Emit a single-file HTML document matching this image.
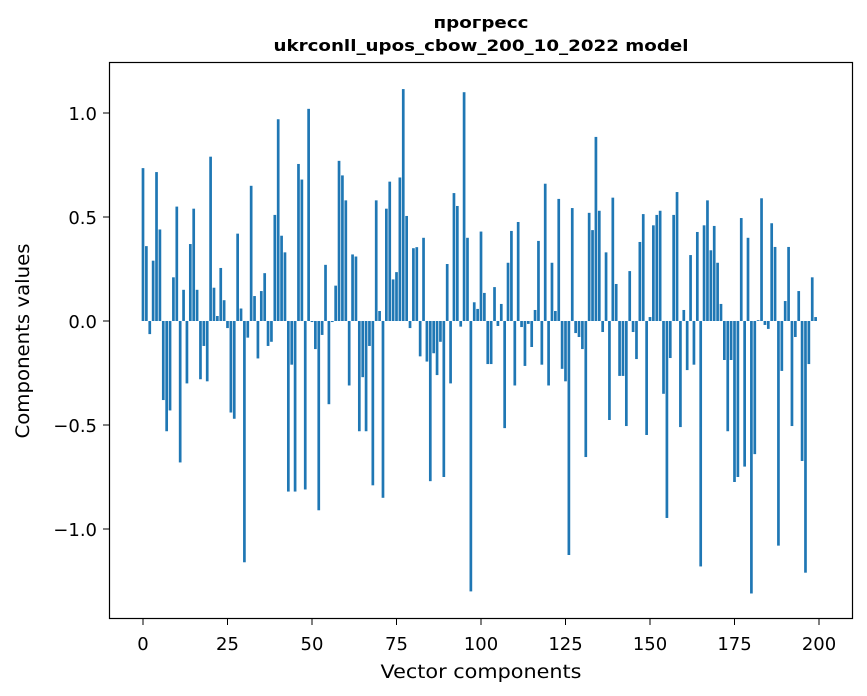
<!DOCTYPE html>
<html><head><meta charset="utf-8"><style>
body{margin:0;background:#fff;}
svg{display:block;font-family:"DejaVu Sans","Liberation Sans",sans-serif;}
</style></head><body>
<svg id="chart" width="867" height="696" viewBox="0 0 867 696">
<rect width="867" height="696" fill="#fff"/>
<text x="481" y="28" text-anchor="middle" font-size="16" font-weight="bold" textLength="95" lengthAdjust="spacingAndGlyphs">прогресс</text>
<text x="481" y="51" text-anchor="middle" font-size="16" font-weight="bold" textLength="415" lengthAdjust="spacingAndGlyphs">ukrconll_upos_cbow_200_10_2022 model</text>
<g id="bars"></g>
<g id="xticks"></g>
<g id="yticks"></g>
<rect x="109.5" y="62.5" width="743" height="556" fill="none" stroke="#000" stroke-width="1.2"/>
<text x="481" y="678" text-anchor="middle" font-size="19" textLength="201" lengthAdjust="spacingAndGlyphs">Vector components</text>
<text x="0" y="0" transform="translate(29,341) rotate(-90)" text-anchor="middle" font-size="19" textLength="195" lengthAdjust="spacingAndGlyphs">Components values</text>
</svg>
<script>
const values = [0.735,0.36,-0.063,0.29,0.716,0.44,-0.38,-0.53,-0.43,0.21,
0.55,-0.68,0.15,-0.30,0.37,0.54,0.15,-0.28,-0.12,-0.29,
0.79,0.16,0.024,0.255,0.10,-0.034,-0.44,-0.47,0.42,0.06,
-1.16,-0.08,0.65,0.12,-0.18,0.144,0.23,-0.12,-0.10,0.51,
0.97,0.41,0.33,-0.82,-0.21,-0.82,0.755,0.68,-0.81,1.02,
-0.005,-0.135,-0.91,-0.067,0.27,-0.40,-0.005,0.17,0.77,0.70,
0.58,-0.31,0.32,0.31,-0.53,-0.27,-0.53,-0.12,-0.79,0.58,
0.048,-0.85,0.54,0.67,0.20,0.235,0.69,1.115,0.505,-0.034,
0.35,0.355,-0.17,0.40,-0.195,-0.77,-0.155,-0.26,-0.10,-0.75,
0.274,-0.30,0.615,0.553,-0.027,1.10,0.40,-1.30,0.09,0.058,
0.43,0.135,-0.207,-0.207,0.163,-0.024,0.082,-0.515,0.28,0.433,
-0.31,0.476,-0.029,-0.216,-0.014,-0.125,0.053,0.385,-0.21,0.66,
-0.31,0.28,0.048,0.587,-0.23,-0.29,-1.125,0.543,-0.058,-0.077,
-0.135,-0.654,0.52,0.437,0.885,0.53,-0.053,0.33,-0.476,0.593,
0.178,-0.264,-0.264,-0.505,0.24,-0.053,-0.183,0.38,0.514,-0.548,
0.019,0.46,0.51,0.53,-0.35,-0.947,-0.178,0.51,0.62,-0.51,
0.053,-0.236,0.317,-0.21,0.428,-1.18,0.46,0.58,0.34,0.457,
0.28,0.082,-0.1875,-0.53,-0.1875,-0.774,-0.75,0.495,-0.70,0.40,
-1.31,-0.64,0.004,0.59,-0.019,-0.038,0.47,0.356,-1.08,-0.24,
0.096,0.356,-0.505,-0.077,0.144,-0.673,-1.21,-0.207,0.21,0.019];
const xTicks = [0,25,50,75,100,125,150,175,200];
const yTicks = [-1.0,-0.5,0.0,0.5,1.0];
const yTickLabels = ["\u22121.0","\u22120.5","0.0","0.5","1.0"];
const NS="http://www.w3.org/2000/svg";
function xs(i){return 143+i*3.38;}
function ys(v){return 321-v*208;}
const gb=document.getElementById('bars');
values.forEach((v,i)=>{
  const r=document.createElementNS(NS,'rect');
  
  
  const y0=ys(0),y1=ys(v);
  r.setAttribute('x',xs(i)-1.35);
  r.setAttribute('width',2.7);
  r.setAttribute('y',Math.min(y0,y1));
  r.setAttribute('height',Math.max(0.01,Math.abs(y1-y0)));
  r.setAttribute('fill','#1f77b4');
  gb.appendChild(r);
});
const gx=document.getElementById('xticks');
xTicks.forEach(t=>{
  const l=document.createElementNS(NS,'line');
  
  
  l.setAttribute('x1',xs(t));l.setAttribute('x2',xs(t));
  l.setAttribute('y1',619);l.setAttribute('y2',625);
  l.setAttribute('stroke','#000');
  gx.appendChild(l);
  const tx=document.createElementNS(NS,'text');
  
  
  tx.setAttribute('x',xs(t));tx.setAttribute('y',650);
  tx.setAttribute('text-anchor','middle');tx.setAttribute('font-size','18');
  tx.textContent=t;
  gx.appendChild(tx);
});
const gy=document.getElementById('yticks');
yTicks.forEach((t,k)=>{
  const l=document.createElementNS(NS,'line');
  
  
  l.setAttribute('x1',103);l.setAttribute('x2',109);
  l.setAttribute('y1',ys(t));l.setAttribute('y2',ys(t));
  l.setAttribute('stroke','#000');
  gy.appendChild(l);
  const tx=document.createElementNS(NS,'text');
  
  
  tx.setAttribute('x',97);tx.setAttribute('y',ys(t)+7);
  tx.setAttribute('text-anchor','end');tx.setAttribute('font-size','18');
  tx.textContent=yTickLabels[k];
  gy.appendChild(tx);
});
</script>
</body></html>
